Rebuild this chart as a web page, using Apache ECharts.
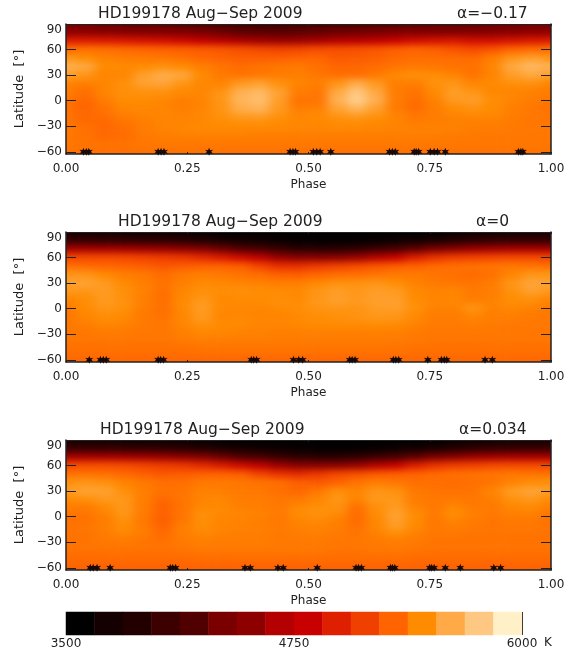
<!DOCTYPE html>
<html><head><meta charset="utf-8">
<style>html,body{margin:0;padding:0;background:#fff}#c{width:578px;height:653px}</style>
<script src="https://cdn.jsdelivr.net/npm/echarts@6/dist/echarts.min.js"></script>
</head><body>
<svg width="0" height="0" style="position:absolute"><filter id="soft" x="-5%" y="-5%" width="110%" height="110%" color-interpolation-filters="sRGB"><feGaussianBlur stdDeviation="5.5 3"/></filter></svg>
<div id="c"></div>
<script>
// Latitude rows (top to bottom) and phase columns of the maps (phase repeats after 1.0)
const latitudes = [90,80,70,60,50,40,30,20,10,0,-10,-20,-30,-40,-50,-60,-70];
const phases = [0,.04,.08,.12,.16,.20,.24,.28,.32,.36,.40,.44,.48,.52,.56,.60,.64,.68,.72,.76,.80,.84,.88,.92,.96];

const tempA = [
[4330,4310,4280,4260,4250,4250,4220,4180,4120,4070,4050,4050,4080,4100,4130,4150,4180,4210,4240,4250,4250,4260,4280,4300,4320],
[4540,4530,4510,4480,4460,4450,4430,4380,4320,4270,4250,4240,4260,4290,4320,4340,4380,4420,4440,4450,4450,4450,4470,4500,4530],
[4970,4970,4960,4940,4920,4900,4860,4800,4720,4640,4600,4580,4590,4630,4680,4710,4770,4840,4890,4920,4940,4900,4900,4930,4960],
[5340,5350,5340,5320,5300,5290,5280,5260,5240,5210,5180,5160,5170,5200,5210,5220,5240,5280,5300,5280,5230,5190,5230,5300,5330],
[5500,5460,5410,5390,5380,5370,5340,5310,5290,5270,5270,5280,5290,5300,5250,5260,5280,5310,5330,5330,5330,5320,5400,5500,5550],
[5640,5600,5450,5440,5450,5480,5450,5400,5360,5330,5350,5370,5380,5340,5300,5310,5330,5360,5380,5370,5350,5350,5430,5600,5680],
[5550,5500,5420,5430,5550,5620,5590,5450,5380,5360,5380,5390,5400,5370,5340,5340,5380,5440,5470,5460,5420,5350,5420,5540,5600],
[5420,5400,5430,5470,5560,5580,5500,5430,5420,5520,5560,5480,5420,5400,5500,5620,5520,5400,5400,5480,5500,5430,5440,5470,5480],
[5390,5340,5420,5470,5480,5480,5440,5430,5490,5640,5680,5560,5390,5370,5600,5750,5600,5390,5350,5440,5540,5500,5430,5420,5410],
[5360,5310,5390,5450,5450,5430,5400,5420,5500,5660,5710,5540,5350,5360,5640,5790,5630,5390,5330,5410,5520,5540,5460,5420,5390],
[5350,5300,5350,5420,5430,5420,5400,5420,5490,5620,5650,5520,5400,5410,5560,5650,5550,5390,5330,5390,5450,5480,5450,5400,5370],
[5360,5310,5330,5380,5410,5420,5420,5430,5470,5510,5520,5470,5430,5440,5480,5500,5470,5420,5370,5390,5410,5420,5420,5390,5370],
[5370,5340,5310,5340,5390,5420,5430,5440,5450,5450,5450,5440,5430,5430,5440,5440,5430,5420,5410,5410,5410,5400,5390,5380,5370],
[5370,5350,5310,5330,5380,5400,5410,5410,5410,5410,5400,5400,5400,5400,5400,5400,5400,5400,5400,5400,5390,5380,5370,5370,5370],
[5370,5360,5350,5350,5370,5380,5380,5380,5380,5380,5380,5380,5380,5380,5380,5380,5380,5380,5380,5380,5370,5370,5370,5370,5370],
[5350,5350,5340,5340,5350,5350,5350,5350,5350,5350,5350,5350,5350,5350,5350,5350,5350,5350,5350,5350,5350,5350,5350,5350,5350],
[5330,5330,5330,5330,5330,5330,5330,5330,5330,5330,5330,5330,5330,5330,5330,5330,5330,5330,5330,5330,5330,5330,5330,5330,5330]
];
const tempB = [
[3800,3780,3760,3730,3710,3700,3680,3640,3590,3560,3550,3530,3510,3500,3500,3500,3520,3540,3560,3600,3650,3700,3740,3770,3790],
[4000,3990,3980,3970,3960,3950,3920,3860,3790,3730,3700,3660,3620,3600,3600,3610,3640,3680,3720,3800,3880,3950,3980,3990,4000],
[4620,4620,4610,4600,4580,4560,4530,4450,4320,4220,4150,4020,3940,3920,3930,3980,4060,4160,4260,4380,4500,4570,4600,4620,4620],
[5170,5180,5180,5170,5150,5120,5090,5030,4950,4870,4740,4560,4470,4470,4500,4560,4680,4830,4970,5070,5130,5150,5170,5180,5180],
[5340,5320,5300,5290,5270,5240,5260,5280,5290,5270,5160,5060,5060,5110,5150,5190,5230,5260,5290,5320,5340,5350,5360,5370,5360],
[5500,5500,5440,5400,5380,5330,5380,5400,5380,5350,5330,5280,5270,5300,5330,5340,5360,5380,5380,5360,5340,5320,5350,5430,5500],
[5560,5570,5520,5440,5400,5350,5400,5440,5430,5420,5410,5400,5400,5440,5480,5480,5500,5460,5410,5380,5370,5360,5390,5500,5580],
[5510,5500,5530,5470,5410,5340,5430,5470,5460,5470,5460,5450,5440,5500,5540,5510,5540,5530,5440,5420,5430,5380,5400,5480,5550],
[5420,5460,5520,5480,5400,5340,5440,5510,5440,5450,5450,5470,5450,5510,5550,5520,5550,5550,5460,5420,5430,5400,5410,5460,5470],
[5380,5450,5500,5470,5390,5340,5440,5530,5440,5430,5430,5440,5460,5490,5500,5490,5530,5540,5470,5410,5410,5490,5410,5430,5410],
[5370,5420,5460,5440,5380,5350,5430,5520,5430,5440,5420,5420,5440,5460,5470,5490,5510,5500,5440,5390,5390,5420,5400,5400,5380],
[5370,5390,5420,5410,5380,5370,5420,5470,5450,5440,5420,5420,5430,5440,5440,5440,5450,5440,5410,5380,5380,5390,5380,5370,5370],
[5370,5370,5380,5380,5370,5370,5400,5430,5420,5410,5410,5400,5400,5400,5400,5400,5400,5400,5380,5370,5370,5370,5370,5370,5370],
[5360,5360,5360,5360,5360,5360,5370,5380,5380,5380,5380,5380,5380,5380,5380,5380,5380,5370,5370,5360,5360,5360,5360,5360,5360],
[5340,5340,5340,5340,5340,5340,5340,5350,5350,5350,5350,5350,5350,5350,5350,5350,5350,5350,5340,5340,5340,5340,5340,5340,5340],
[5310,5310,5310,5310,5310,5310,5310,5310,5310,5310,5310,5310,5310,5310,5310,5310,5310,5310,5310,5310,5310,5310,5310,5310,5310],
[5300,5300,5300,5300,5300,5300,5300,5300,5300,5300,5300,5300,5300,5300,5300,5300,5300,5300,5300,5300,5300,5300,5300,5300,5300]
];
const tempC = [
[3800,3780,3760,3730,3710,3700,3680,3640,3590,3560,3550,3530,3510,3500,3500,3500,3520,3540,3560,3600,3650,3700,3740,3770,3790],
[4010,4000,3990,3980,3970,3960,3930,3870,3800,3740,3700,3670,3630,3610,3600,3610,3640,3680,3720,3800,3880,3950,3980,3990,4000],
[4630,4630,4620,4610,4590,4560,4530,4450,4320,4220,4150,4030,3960,3930,3930,3980,4060,4160,4260,4380,4500,4580,4610,4630,4630],
[5180,5200,5200,5190,5160,5120,5090,5030,4950,4870,4740,4580,4490,4470,4500,4560,4680,4830,4970,5070,5130,5150,5180,5190,5190],
[5350,5350,5340,5310,5280,5250,5260,5280,5290,5270,5160,5070,5040,5100,5170,5210,5250,5270,5290,5320,5340,5350,5360,5370,5360],
[5480,5500,5480,5420,5380,5340,5340,5380,5380,5370,5360,5340,5280,5250,5290,5360,5400,5370,5340,5340,5330,5340,5360,5420,5460],
[5540,5570,5560,5470,5400,5350,5360,5410,5400,5380,5370,5340,5300,5370,5470,5420,5500,5480,5380,5360,5350,5360,5430,5530,5580],
[5450,5470,5510,5510,5400,5310,5360,5420,5430,5390,5390,5370,5380,5430,5500,5420,5510,5510,5390,5370,5380,5370,5400,5480,5510],
[5390,5380,5440,5510,5390,5290,5360,5440,5440,5410,5400,5380,5440,5470,5480,5340,5470,5530,5420,5380,5440,5390,5380,5430,5440],
[5350,5350,5400,5490,5380,5280,5360,5470,5430,5420,5410,5380,5440,5470,5430,5330,5440,5560,5460,5380,5450,5400,5370,5390,5390],
[5350,5360,5400,5460,5380,5290,5390,5460,5420,5410,5400,5380,5410,5420,5400,5340,5430,5540,5450,5370,5400,5380,5360,5370,5370],
[5350,5360,5390,5430,5390,5320,5400,5430,5410,5400,5400,5380,5390,5400,5380,5360,5410,5460,5410,5370,5370,5360,5360,5360,5360],
[5350,5360,5370,5380,5360,5350,5380,5400,5390,5390,5390,5380,5380,5380,5370,5370,5380,5390,5380,5360,5360,5360,5360,5350,5350],
[5350,5350,5350,5350,5350,5350,5360,5370,5370,5370,5370,5370,5370,5370,5360,5360,5370,5370,5360,5350,5350,5350,5350,5350,5350],
[5320,5320,5320,5320,5320,5320,5320,5330,5330,5330,5330,5330,5330,5330,5330,5330,5330,5330,5320,5320,5320,5320,5320,5320,5320],
[5290,5290,5290,5290,5290,5290,5290,5290,5290,5290,5290,5290,5290,5290,5290,5290,5290,5290,5290,5290,5290,5290,5290,5290,5290],
[5280,5280,5280,5280,5280,5280,5280,5280,5280,5280,5280,5280,5280,5280,5280,5280,5280,5280,5280,5280,5280,5280,5280,5280,5280]
];

// Observed phases (star symbols along the bottom of each map)
const obsA = [.036,.042,.047,.19,.196,.202,.295,.462,.468,.473,.51,.517,.524,.546,.667,.673,.679,.718,.722,.727,.751,.759,.766,.782,.933,.938,.942];
const obsB = [.048,.071,.077,.083,.19,.195,.201,.382,.387,.393,.469,.48,.488,.585,.59,.596,.675,.68,.686,.746,.774,.78,.785,.864,.879];
const obsC = [.05,.056,.064,.091,.215,.22,.226,.369,.38,.437,.448,.518,.598,.603,.609,.669,.673,.678,.75,.754,.759,.782,.813,.882,.896];

const mapTitle = 'HD199178 Aug\u2212Sep 2009';
const alphaLabels = ['\u03b1=\u22120.17','\u03b1=0','\u03b1=0.034'];
const phaseTicks = [0,.25,.5,.75,1];
const latTicks = [-60,-30,0,30,60,90];
const barLabels = [3500,4750,6000];
const barColors = ['#000000','#140000','#230000','#3c0000','#500000','#7a0000','#8c0000','#b40000','#c80000','#de2000','#f04000','#ff6400','#ff8c00','#ffaa46','#ffc882','#fff0c8'];

const TMIN=3500, TMAX=6000;
const FONT='"DejaVu Sans"', INK='#222';
const L=66, W=485, PH=130, tops=[24,232,440];
const LATMIN=-62.5, LATMAX=90;
const pxDeg=PH/(LATMAX-LATMIN), pxCol=W*0.04, pxRow=10*pxDeg;

function star(){ let d=''; const n=6; for(let i=0;i<2*n;i++){const r=i%2?2.2:5,a=Math.PI*i/n-Math.PI/2;
  d+=(i?'L':'M')+(r*Math.cos(a)).toFixed(2)+' '+(r*Math.sin(a)).toFixed(2);} return 'path://'+d+'Z'; }

const grid=[],xAxis=[],yAxis=[],series=[],title=[];
const lab={fontFamily:FONT,fontSize:12,color:INK};
const titleX=[98,118,100], alphaX=[457,476,459];
const temps=[tempA,tempB,tempC], obs=[obsA,obsB,obsC];

tops.forEach((t,i)=>{
  grid.push({left:L,top:t,width:W,height:PH,outerBoundsMode:'none',zlevel:1});
  const g=grid.length-1;
  const xi=xAxis.length, yi=yAxis.length;
  xAxis.push({gridIndex:g,type:'value',min:0,max:1,position:'bottom',zlevel:1,
    name:'Phase',nameLocation:'middle',nameGap:25,nameTextStyle:{...lab},
    axisLine:{show:true,onZero:false,lineStyle:{color:INK,width:1.5}},
    axisTick:{show:true,inside:true,length:2,customValues:phaseTicks,lineStyle:{color:INK}},
    axisLabel:{...lab,margin:9,customValues:phaseTicks,formatter:v=>v.toFixed(2)},splitLine:{show:false}});
  xAxis.push({gridIndex:g,type:'value',min:0,max:1,position:'top',zlevel:1,
    axisLine:{show:true,onZero:false,lineStyle:{color:INK,width:1}},
    axisTick:{show:true,inside:true,length:2,customValues:phaseTicks,lineStyle:{color:INK}},
    axisLabel:{show:false},splitLine:{show:false}});
  yAxis.push({gridIndex:g,type:'value',min:LATMIN,max:LATMAX,position:'left',zlevel:1,
    name:'Latitude  [\u00b0]',nameLocation:'middle',nameGap:31,nameRotate:90,nameTextStyle:{...lab,fontSize:13},
    axisLine:{show:true,onZero:false,lineStyle:{color:INK,width:1.5}},
    axisTick:{show:true,inside:true,length:10,customValues:latTicks,lineStyle:{color:INK}},
    axisLabel:{...lab,margin:4,customValues:latTicks,verticalAlignMaxLabel:'top',formatter:v=>String(v).replace('-','\u2212')},splitLine:{show:false}});
  yAxis.push({gridIndex:g,type:'value',min:LATMIN,max:LATMAX,position:'right',zlevel:1,
    axisLine:{show:true,onZero:false,lineStyle:{color:INK,width:1.5}},
    axisTick:{show:true,inside:true,length:10,customValues:latTicks,lineStyle:{color:INK}},
    axisLabel:{show:false},splitLine:{show:false}});
  series.push({type:'scatter',xAxisIndex:xi,yAxisIndex:yi,zlevel:1,silent:true,symbol:star(),symbolSize:8,
    itemStyle:{color:'#1a0a08',opacity:1},data:obs[i].map(p=>[p,-60])});

  const gh=grid.length;
  const cols=[-1,...phases.map((_,k)=>k),25,26];
  const rows=[0,...latitudes.map((_,k)=>k)];
  grid.push({left:L-1.5*pxCol,top:t-(105-LATMAX)*pxDeg,width:cols.length*pxCol,height:rows.length*pxRow,outerBoundsMode:'none',zlevel:0});
  xAxis.push({gridIndex:gh,type:'category',show:false,data:cols.map(String)});
  yAxis.push({gridIndex:gh,type:'category',show:false,inverse:true,data:rows.map((_,k)=>String(k))});
  const data=[];
  rows.forEach((r,ry)=>cols.forEach((c,cx)=>data.push([cx,ry,temps[i][r][(c+25)%25]])));
  series.push({type:'heatmap',xAxisIndex:xAxis.length-1,yAxisIndex:yAxis.length-1,zlevel:0,silent:true,progressive:0,data});

  const ty=t-23;
  const ts={fontFamily:FONT,fontSize:15.5,fontWeight:'normal',color:INK};
  title.push({text:mapTitle,left:titleX[i]-5,top:ty,zlevel:1,textStyle:ts});
  title.push({text:alphaLabels[i],left:alphaX[i]-5,top:ty,zlevel:1,textStyle:ts});
});
title.push({text:'K',left:539,top:632,zlevel:1,textStyle:{...lab,fontWeight:'normal'}});

// colour bar
const gb=grid.length;
grid.push({left:L,top:612,width:456,height:23,outerBoundsMode:'none',zlevel:1});
const step=(TMAX-TMIN)/barColors.length;
const barValues=barColors.map((_,k)=>TMIN+(k+.5)*step);
xAxis.push({gridIndex:gb,type:'category',show:false,data:barValues.map(String)});
yAxis.push({gridIndex:gb,type:'category',show:false,data:['K']});
xAxis.push({gridIndex:gb,type:'value',min:TMIN,max:TMAX,position:'bottom',zlevel:1,
  axisLine:{show:false},axisTick:{show:true,inside:true,length:23,customValues:[TMAX],lineStyle:{color:'#000',width:2}},
  axisLabel:{...lab,margin:3,customValues:barLabels,formatter:v=>String(v)},splitLine:{show:false}});
series.push({type:'heatmap',xAxisIndex:xAxis.length-2,yAxisIndex:yAxis.length-1,zlevel:1,silent:true,progressive:0,
  data:barValues.map((v,k)=>[k,0,v])});
const barSeries=series.length-1;

const chart=echarts.init(document.getElementById('c'),null,{renderer:'canvas'});
chart.setOption({animation:false,grid,xAxis,yAxis,series,title,tooltip:{show:false},
  visualMap:[
    {type:'continuous',show:false,min:barValues[0],max:barValues[barValues.length-1],seriesIndex:[1,3,5],inRange:{color:barColors}},
    {type:'piecewise',show:false,seriesIndex:[barSeries],pieces:barValues.map((v,k)=>({min:v-step/2,max:v+step/2,color:barColors[k]}))}
  ]});
const cv=document.querySelector('#c canvas');
cv.style.filter='url(#soft)';
cv.style.clipPath="path('"+tops.map(t=>`M${L} ${t}H${L+W}V${t+PH}H${L}Z`).join(' ')+"')";
</script>
</body></html>
